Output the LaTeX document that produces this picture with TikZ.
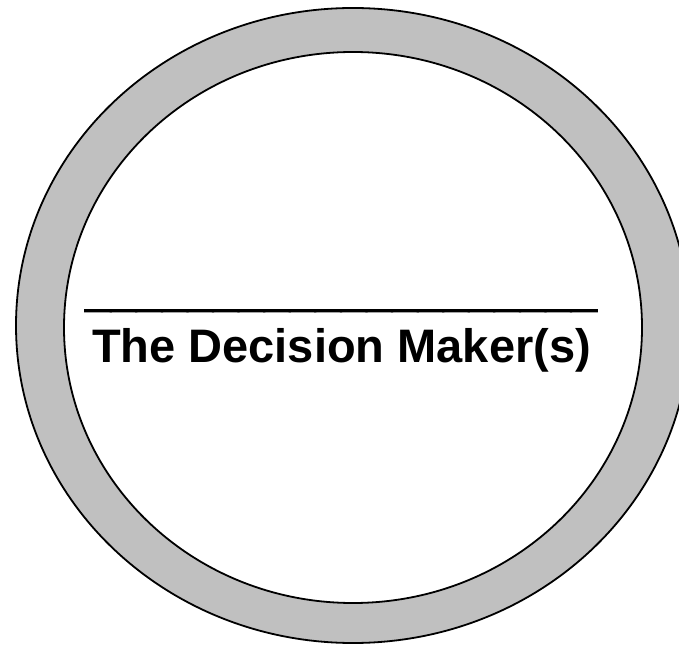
\documentclass[tikz,border=0pt]{standalone}
\usepackage{fontspec}
\setmainfont{Liberation Sans}
\begin{document}
\begin{tikzpicture}[x=1pt,y=1pt,
  ringline/.style={draw=black,line width=1.8pt},
  title/.style={font=\fontsize{47}{50}\selectfont\bfseries,inner sep=0pt,anchor=base}]
\useasboundingbox (0,0) rectangle (679,648);
\begin{scope}
\clip (0,0) rectangle (679,648);
\fill[ringline,fill={rgb,255:red,192;green,192;blue,192}] (353,322.5) ellipse [x radius=337,y radius=317.5];
\end{scope}
\fill[ringline,fill=white] (353,320.5) ellipse [x radius=289,y radius=275.5];
\node[title,font=\fontsize{46}{50}\selectfont\bfseries\addfontfeatures{FakeBold=3}] (rule) at (341,342) {\_\_\_\_\_\_\_\_\_\_\_\_\_\_\_\_\_\_\_\_};
\node[title] (name) at (341.5,285) {The Decision Maker(s)};
\end{tikzpicture}
\end{document}
